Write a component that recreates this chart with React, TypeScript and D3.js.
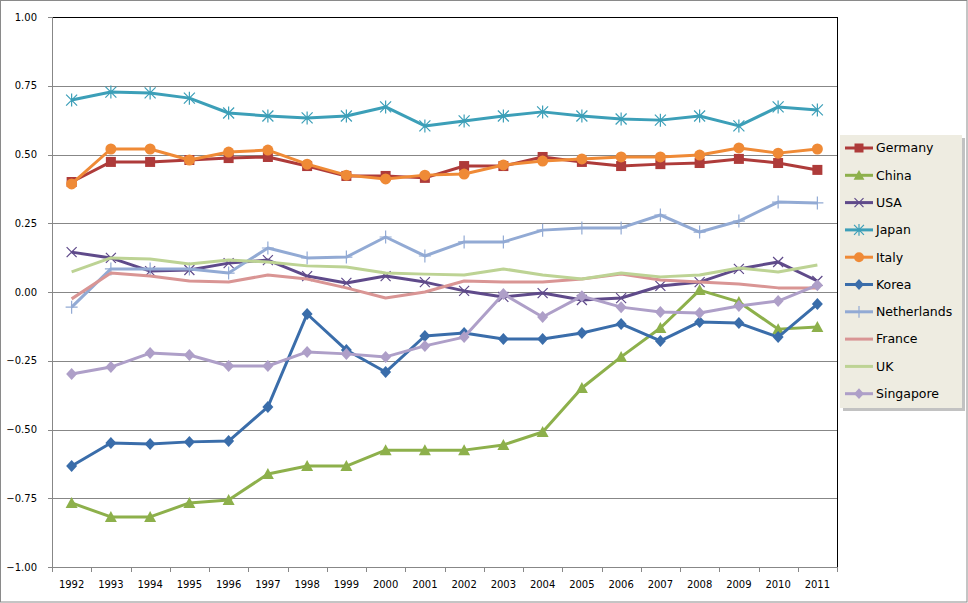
import React from "react";
import * as d3 from "d3";

const years = ["1992","1993","1994","1995","1996","1997","1998","1999","2000","2001","2002","2003","2004","2005","2006","2007","2008","2009","2010","2011"];
const yTicks = [1, 0.75, 0.5, 0.25, 0, -0.25, -0.5, -0.75, -1];

const germany = [0.400,0.473,0.473,0.480,0.487,0.491,0.458,0.422,0.422,0.415,0.458,0.458,0.491,0.473,0.458,0.465,0.469,0.484,0.469,0.444];
const china = [-0.767,-0.818,-0.818,-0.767,-0.756,-0.662,-0.633,-0.633,-0.575,-0.575,-0.575,-0.556,-0.509,-0.349,-0.236,-0.131,0.007,-0.036,-0.135,-0.127];
const usa = [0.145,0.124,0.076,0.080,0.105,0.116,0.058,0.033,0.058,0.036,0.004,-0.018,-0.004,-0.029,-0.022,0.022,0.036,0.084,0.109,0.040];
const japan = [0.698,0.727,0.724,0.705,0.651,0.640,0.633,0.640,0.673,0.604,0.622,0.640,0.655,0.640,0.629,0.625,0.640,0.604,0.673,0.662];
const italy = [0.393,0.520,0.520,0.480,0.509,0.516,0.465,0.425,0.411,0.425,0.429,0.462,0.476,0.484,0.491,0.491,0.498,0.524,0.505,0.520];
const korea = [-0.633,-0.549,-0.553,-0.545,-0.542,-0.418,-0.080,-0.211,-0.291,-0.160,-0.149,-0.171,-0.171,-0.149,-0.116,-0.178,-0.109,-0.113,-0.164,-0.044];
const netherlands = [-0.055,0.084,0.084,0.084,0.069,0.160,0.124,0.127,0.200,0.131,0.182,0.182,0.225,0.233,0.233,0.280,0.218,0.258,0.327,0.324];
const france = [-0.025,0.069,0.058,0.040,0.036,0.062,0.047,0.015,-0.022,0.000,0.040,0.036,0.036,0.047,0.065,0.044,0.036,0.029,0.015,0.015];
const uk = [0.073,0.124,0.120,0.102,0.116,0.109,0.095,0.091,0.069,0.065,0.062,0.084,0.062,0.047,0.069,0.055,0.062,0.087,0.073,0.098];
const singapore = [-0.298,-0.273,-0.222,-0.229,-0.269,-0.269,-0.218,-0.225,-0.236,-0.196,-0.164,-0.007,-0.091,-0.015,-0.055,-0.073,-0.076,-0.051,-0.033,0.025];

type Marker = "square" | "triangle" | "x" | "asterisk" | "circle" | "diamond" | "plus" | "none";
const series: { name: string; values: number[]; color: string; marker: Marker }[] = [
  { name: "Germany", values: germany, color: "#AE3B3A", marker: "square" },
  { name: "China", values: china, color: "#8DB04B", marker: "triangle" },
  { name: "USA", values: usa, color: "#5F4A8A", marker: "x" },
  { name: "Japan", values: japan, color: "#3C9FB8", marker: "asterisk" },
  { name: "Italy", values: italy, color: "#EF8A36", marker: "circle" },
  { name: "Korea", values: korea, color: "#3A6DAA", marker: "diamond" },
  { name: "Netherlands", values: netherlands, color: "#92AAD4", marker: "plus" },
  { name: "France", values: france, color: "#D99594", marker: "none" },
  { name: "UK", values: uk, color: "#BDD394", marker: "none" },
  { name: "Singapore", values: singapore, color: "#AE9FC8", marker: "diamond" },
];

const W = 968, H = 603;
const plotL = 52, plotR = 837, plotT = 17, plotB = 567;

function MarkerShape({ type, x, y, color, s = 1 }: { type: Marker; x: number; y: number; color: string; s?: number }) {
  switch (type) {
    case "square":
      return <rect x={x - 5 * s} y={y - 5 * s} width={10 * s} height={10 * s} fill={color} />;
    case "triangle":
      return <path d={`M${x},${y - 6 * s}L${x + 6 * s},${y + 5 * s}L${x - 6 * s},${y + 5 * s}Z`} fill={color} />;
    case "x":
      return <path d={`M${x - 5 * s},${y - 5 * s}L${x + 5 * s},${y + 5 * s}M${x + 5 * s},${y - 5 * s}L${x - 5 * s},${y + 5 * s}`} stroke={color} strokeWidth={1.2} fill="none" />;
    case "asterisk":
      return <path d={`M${x - 5.5 * s},${y - 5.5 * s}L${x + 5.5 * s},${y + 5.5 * s}M${x + 5.5 * s},${y - 5.5 * s}L${x - 5.5 * s},${y + 5.5 * s}M${x},${y - 6.5 * s}L${x},${y + 6.5 * s}`} stroke={color} strokeWidth={1.2} fill="none" />;
    case "circle":
      return <circle cx={x} cy={y} r={5.5 * s} fill={color} />;
    case "diamond":
      return <path d={`M${x},${y - 6 * s}L${x + 5.5 * s},${y}L${x},${y + 6 * s}L${x - 5.5 * s},${y}Z`} fill={color} />;
    case "plus":
      return <path d={`M${x},${y - 6.5 * s}L${x},${y + 6.5 * s}M${x - 6 * s},${y}L${x + 6 * s},${y}`} stroke={color} strokeWidth={1.2} fill="none" />;
    default:
      return null;
  }
}

export default function App() {
  const x = d3.scaleBand<string>().domain(years).range([plotL, plotR]);
  const y = d3.scaleLinear().domain([-1, 1]).range([plotB, plotT]);
  const cx = (yr: string) => (x(yr) as number) + x.bandwidth() / 2;
  const line = d3.line<number>().x((_, i) => cx(years[i])).y((v) => y(v));
  const font = "'DejaVu Sans', Verdana, sans-serif";
  const legX = 840, legY = 135, legW = 122, legH = 273;
  const legStep = 27.3;

  return (
    <svg width={W} height={H} style={{ position: "absolute", left: 0, top: 0, background: "#fff" }}>
      <rect x={0.5} y={0.5} width={W - 1.5} height={H - 1.5} fill="#fff" stroke="#8a8a8a" />
      {/* gridlines */}
      {yTicks.map((t) => (
        <line key={t} x1={plotL} x2={plotR} y1={Math.round(y(t)) + 0.5} y2={Math.round(y(t)) + 0.5} stroke="#878787" strokeWidth={1} />
      ))}
      {/* plot border: top and right black */}
      <line x1={plotL} x2={plotR + 0.5} y1={plotT + 0.5} y2={plotT + 0.5} stroke="#000" />
      <line x1={plotR + 0.5} x2={plotR + 0.5} y1={plotT} y2={plotB + 0.5} stroke="#000" />
      {/* y axis */}
      <line x1={plotL + 0.5} x2={plotL + 0.5} y1={plotT} y2={plotB + 0.5} stroke="#878787" />
      {yTicks.map((t) => (
        <g key={"yt" + t}>
          <line x1={plotL - 4} x2={plotL} y1={Math.round(y(t)) + 0.5} y2={Math.round(y(t)) + 0.5} stroke="#878787" />
          <text x={37} y={y(t)} dy="0.35em" textAnchor="end" fontFamily={font} fontSize={10} fill="#000">{d3.format(".2f")(t)}</text>
        </g>
      ))}
      {/* x axis ticks */}
      {years.map((yr, i) => (
        <line key={"xt" + yr} x1={Math.round(x(yr) as number) + 0.5} x2={Math.round(x(yr) as number) + 0.5} y1={plotB} y2={plotB + 5} stroke="#878787" />
      ))}
      <line x1={plotR + 0.5} x2={plotR + 0.5} y1={plotB} y2={plotB + 5} stroke="#878787" />
      {years.map((yr) => (
        <text key={"xl" + yr} x={cx(yr)} y={584} dy="0.35em" textAnchor="middle" fontFamily={font} fontSize={10} fill="#000">{yr}</text>
      ))}
      {/* series */}
      {series.map((s) => (
        <g key={s.name}>
          <path d={line(s.values) as string} fill="none" stroke={s.color} strokeWidth={3} strokeLinejoin="round" />
          {s.values.map((v, i) => (
            <MarkerShape key={i} type={s.marker} x={cx(years[i])} y={y(v)} color={s.color} />
          ))}
        </g>
      ))}
      {/* legend */}
      <rect x={legX + 3} y={legY + 3} width={legW} height={legH} fill="#9a9a9a" opacity={0.6} />
      <rect x={legX} y={legY} width={legW} height={legH} fill="#EEECE1" />
      {series.map((s, i) => {
        const ly = 148 + i * legStep;
        return (
          <g key={"lg" + s.name}>
            <line x1={845} x2={873} y1={ly} y2={ly} stroke={s.color} strokeWidth={3} />
            <MarkerShape type={s.marker} x={859} y={ly} color={s.color} s={0.9} />
            <text x={876} y={ly} dy="0.35em" fontFamily={font} fontSize={12.5} fill="#000">{s.name}</text>
          </g>
        );
      })}
    </svg>
  );
}
